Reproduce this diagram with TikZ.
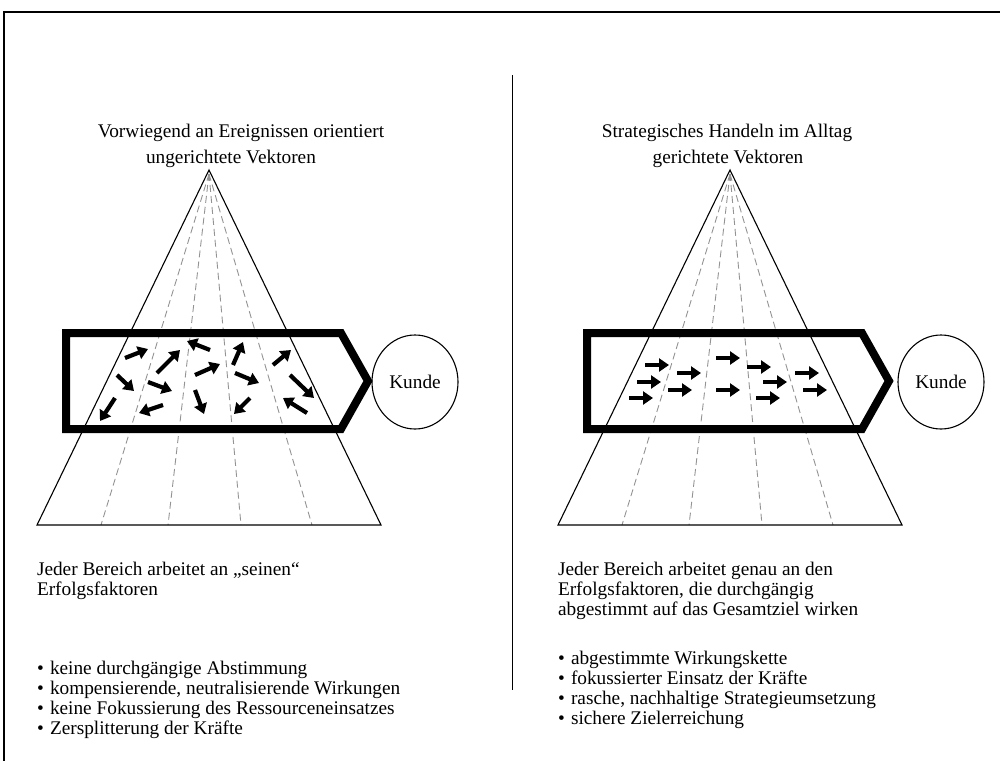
\documentclass[tikz,border=0pt]{standalone}
\usepackage{fontspec}
\setmainfont{Liberation Serif}
\usetikzlibrary{arrows.meta,shapes.geometric}
\tikzset{
  txt/.style={inner sep=0pt, outer sep=0pt, font=\fontsize{19.3}{21}\selectfont},
  tri/.style={draw=black, line width=1.1pt, line join=miter},
  ray/.style={draw=gray!85, line width=0.9pt, dash pattern=on 7pt off 4pt},
  penta/.style={draw=black, line width=8pt, line join=miter},
  vec/.style={line width=4.2pt, -{Triangle[length=10pt,width=13pt]}},
  kunde/.style={draw=black, line width=1.1pt, ellipse, minimum width=86pt, minimum height=94pt, inner sep=0pt, font=\fontsize{19.3}{21}\selectfont},
  frame/.style={draw=black, line width=2.8pt},
}
\begin{document}
\begin{tikzpicture}[x=1pt,y=-1pt]
\useasboundingbox (0,0) rectangle (1000,760);
\clip (0,0) rectangle (1000,760);
% frame
\draw[frame] (4,1000) -- (4,12) -- (1100,12);
% divider
\coordinate (dtop) at (512,75);
\coordinate (dbot) at (512,690);
\draw[line width=1pt] (dtop) -- (dbot);

% ---------------- left panel ----------------
\node[txt, anchor=base] (tL) at (241,137) {Vorwiegend an Ereignissen orientiert};
\node[txt, anchor=base west] (vL) at (146,163) {ungerichtete Vektoren};
\coordinate (aL) at (209,170);
\coordinate (blL) at (37,525);
\coordinate (brL) at (381,525);
\foreach \bx in {101,168,241,312} {\draw[ray] (209,174) -- (\bx,525);}
\draw[tri] (blL) -- (aL) -- (brL) -- cycle;
\draw[penta] (66,333) -- (341,333) -- (368,381) -- (341,429) -- (66,429) -- cycle;
\node[kunde] (kL) at (415,382) {Kunde};
% undirected vectors
\foreach \a/\b/\c/\d in {
  125/358/148/349, 117/375/134/391, 157/373/180/350, 148/382/172/391,
  115/398/100/421, 163/405/139/413, 210/350/187/341, 195/375/220/364,
  195/390/204/414, 233/365/243/342, 235/373/259/383, 250/398/234/414,
  273/365/291/350, 290/375/314/398, 307/413/283/398}
  {\draw[vec] (\a,\b) -- (\c,\d);}
\node[txt, anchor=base west] (jL1) at (37,575) {Jeder Bereich arbeitet an „seinen“};
\node[txt, anchor=base west] (jL2) at (37,595) {Erfolgsfaktoren};
\foreach \y/\t [count=\i] in {674/keine durchgängige Abstimmung, 694/{kompensierende, neutralisierende Wirkungen}, 714/keine Fokussierung des Ressourceneinsatzes, 734/Zersplitterung der Kräfte}{
  \node[txt, anchor=base west] (bL\i) at (37,\y) {•};
  \node[txt, anchor=base west] (lL\i) at (50,\y) {\t};
}

% ---------------- right panel ----------------
\node[txt, anchor=base] (tR) at (727,137) {Strategisches Handeln im Alltag};
\node[txt, anchor=base] (vR) at (728,163) {gerichtete Vektoren};
\coordinate (aR) at (730,170);
\coordinate (blR) at (558,525);
\coordinate (brR) at (902,525);
\foreach \bx in {622,689,762,833} {\draw[ray] (730,174) -- (\bx,525);}
\draw[tri] (blR) -- (aR) -- (brR) -- cycle;
\draw[penta] (587,333) -- (862,333) -- (889,381) -- (862,429) -- (587,429) -- cycle;
\node[kunde] (kR) at (941,382) {Kunde};
% directed vectors
\foreach \x/\y in {645/365, 637/382, 629/398, 677/373, 668/390, 716/358,
  716/390, 747/367, 763/382, 756/398, 795/373, 803/390}
  {\draw[vec] (\x,\y) -- ++(24,0);}
\node[txt, anchor=base west] (jR1) at (558,575) {Jeder Bereich arbeitet genau an den};
\node[txt, anchor=base west] (jR2) at (558,595) {Erfolgsfaktoren, die durchgängig};
\node[txt, anchor=base west] (jR3) at (558,615) {abgestimmt auf das Gesamtziel wirken};
\foreach \y/\t [count=\i] in {664/abgestimmte Wirkungskette, 684/fokussierter Einsatz der Kräfte, 704/{rasche, nachhaltige Strategieumsetzung}, 724/sichere Zielerreichung}{
  \node[txt, anchor=base west] (bR\i) at (558,\y) {•};
  \node[txt, anchor=base west] (lR\i) at (571,\y) {\t};
}
\end{tikzpicture}
\end{document}
